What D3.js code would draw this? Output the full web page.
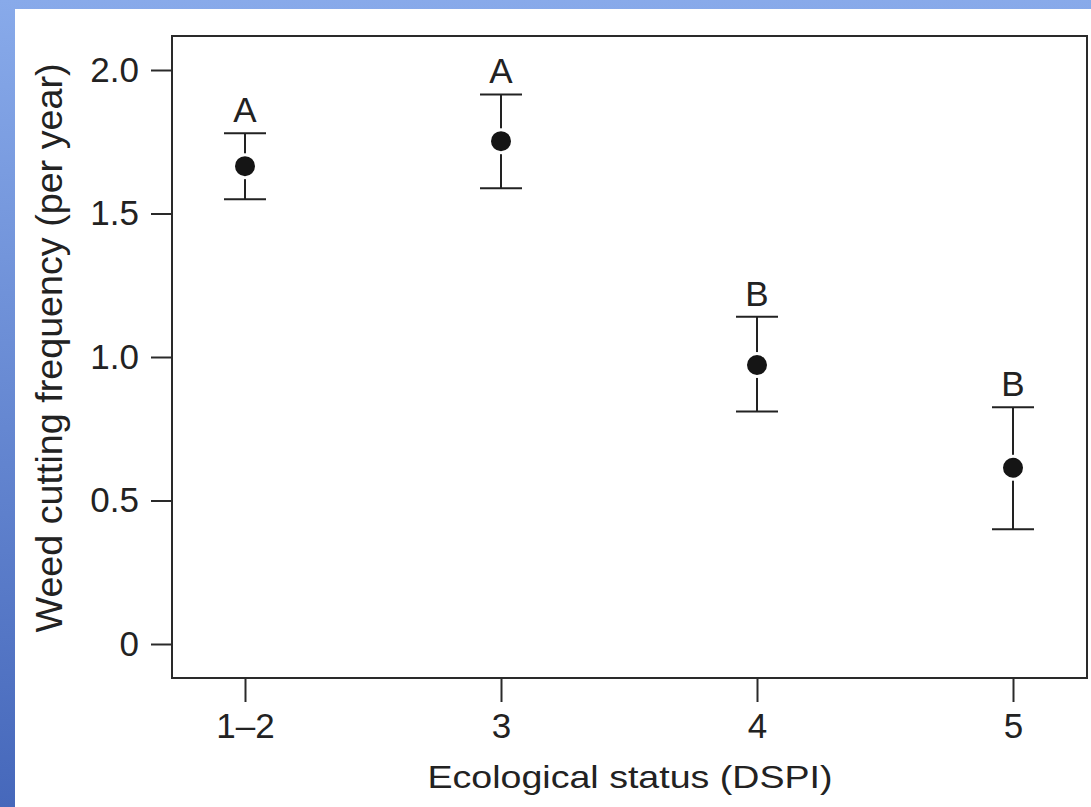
<!DOCTYPE html>
<html>
<head>
<meta charset="utf-8">
<script src="https://cdn.jsdelivr.net/npm/d3@7"></script>
<style>
  body { margin: 0; background: #fff; }
  svg { display: block; }
  text { font-family: "Liberation Sans", Arial, Helvetica, sans-serif; fill: #222; }
</style>
</head>
<body>
<svg id="canvas" width="1091" height="807"></svg>
<script>
// status classes and their mean cutting frequency, with error bar ends
const CATEGORIES = ['1–2', '3', '4', '5'];
const MEANS = [1.665, 1.752, 0.972, 0.614];
const UPPER = [1.78, 1.915, 1.14, 0.825];
const LOWER = [1.55, 1.588, 0.81, 0.40];
const GROUPS = ['A', 'A', 'B', 'B'];
const Y_TICKS = [0, 0.5, 1.0, 1.5, 2.0];

const svg = d3.select('#canvas');
const W = 1091, H = 807;

// slide background: blue frame on top and left
const defs = svg.append('defs');
const grad = defs.append('linearGradient')
  .attr('id', 'bg').attr('x1', 0).attr('y1', 0).attr('x2', 0).attr('y2', 1);
grad.append('stop').attr('offset', '0%').attr('stop-color', '#88aaea');
grad.append('stop').attr('offset', '100%').attr('stop-color', '#4668bb');
svg.append('rect').attr('width', W).attr('height', H).attr('fill', 'url(#bg)');
svg.append('rect').attr('x', 15).attr('y', 9).attr('width', W - 15).attr('height', H - 9).attr('fill', '#fff');

// plot box
const box = { left: 172, top: 36, right: 1087, bottom: 678 };

const x = d3.scalePoint()
  .domain(CATEGORIES)
  .range([245, 1013]);

const y = d3.scaleLinear()
  .domain([0, 2])
  .range([644, 70]);

svg.append('rect')
  .attr('x', box.left).attr('y', box.top)
  .attr('width', box.right - box.left).attr('height', box.bottom - box.top)
  .attr('fill', 'none').attr('stroke', '#2a2a2a').attr('stroke-width', 2);

// y axis
const yAxis = svg.append('g')
  .attr('transform', `translate(${box.left},0)`)
  .call(d3.axisLeft(y).tickValues(Y_TICKS).tickSize(21).tickPadding(12)
    .tickFormat(d => d === 0 ? '0' : d3.format('.1f')(d)));
yAxis.select('.domain').remove();
yAxis.selectAll('line').attr('stroke', '#2a2a2a').attr('stroke-width', 2);
yAxis.selectAll('text').attr('font-size', 35).attr('fill', '#222')
  .attr('font-family', '"Liberation Sans", Arial, sans-serif');

// x axis
const xAxis = svg.append('g')
  .attr('transform', `translate(0,${box.bottom})`)
  .call(d3.axisBottom(x).tickSize(24).tickPadding(11));
xAxis.select('.domain').remove();
xAxis.selectAll('line').attr('stroke', '#2a2a2a').attr('stroke-width', 2);
xAxis.selectAll('text').attr('font-size', 35).attr('fill', '#222')
  .attr('font-family', '"Liberation Sans", Arial, sans-serif');

// error bars
const pts = CATEGORIES.map((c, i) => ({ c, m: MEANS[i], hi: UPPER[i], lo: LOWER[i], g: GROUPS[i] }));
const bars = svg.append('g').attr('stroke', '#222').attr('stroke-width', 2);
pts.forEach(d => {
  const cx = x(d.c);
  bars.append('line').attr('x1', cx).attr('x2', cx).attr('y1', y(d.hi)).attr('y2', y(d.lo));
  bars.append('line').attr('x1', cx - 21).attr('x2', cx + 21).attr('y1', y(d.hi)).attr('y2', y(d.hi));
  bars.append('line').attr('x1', cx - 21).attr('x2', cx + 21).attr('y1', y(d.lo)).attr('y2', y(d.lo));
});

// mean points
svg.append('g').selectAll('circle')
  .data(pts)
  .join('circle')
  .attr('cx', d => x(d.c))
  .attr('cy', d => y(d.m))
  .attr('r', 11.5)
  .attr('fill', '#151515')
  .attr('stroke', '#fff')
  .attr('stroke-width', 3);

// group letters above the caps
svg.append('g').selectAll('text')
  .data(pts)
  .join('text')
  .attr('x', d => x(d.c))
  .attr('y', d => y(d.hi) - 11)
  .attr('text-anchor', 'middle')
  .attr('font-size', 35)
  .text(d => d.g);

// axis titles
svg.append('text')
  .attr('x', 630).attr('y', 788)
  .attr('text-anchor', 'middle')
  .attr('font-size', 32)
  .attr('textLength', 405)
  .attr('lengthAdjust', 'spacingAndGlyphs')
  .text('Ecological status (DSPI)');

svg.append('text')
  .attr('transform', 'translate(62,348) rotate(-90)')
  .attr('text-anchor', 'middle')
  .attr('font-size', 37)
  .attr('textLength', 569)
  .attr('lengthAdjust', 'spacingAndGlyphs')
  .text('Weed cutting frequency (per year)');
</script>
</body>
</html>
